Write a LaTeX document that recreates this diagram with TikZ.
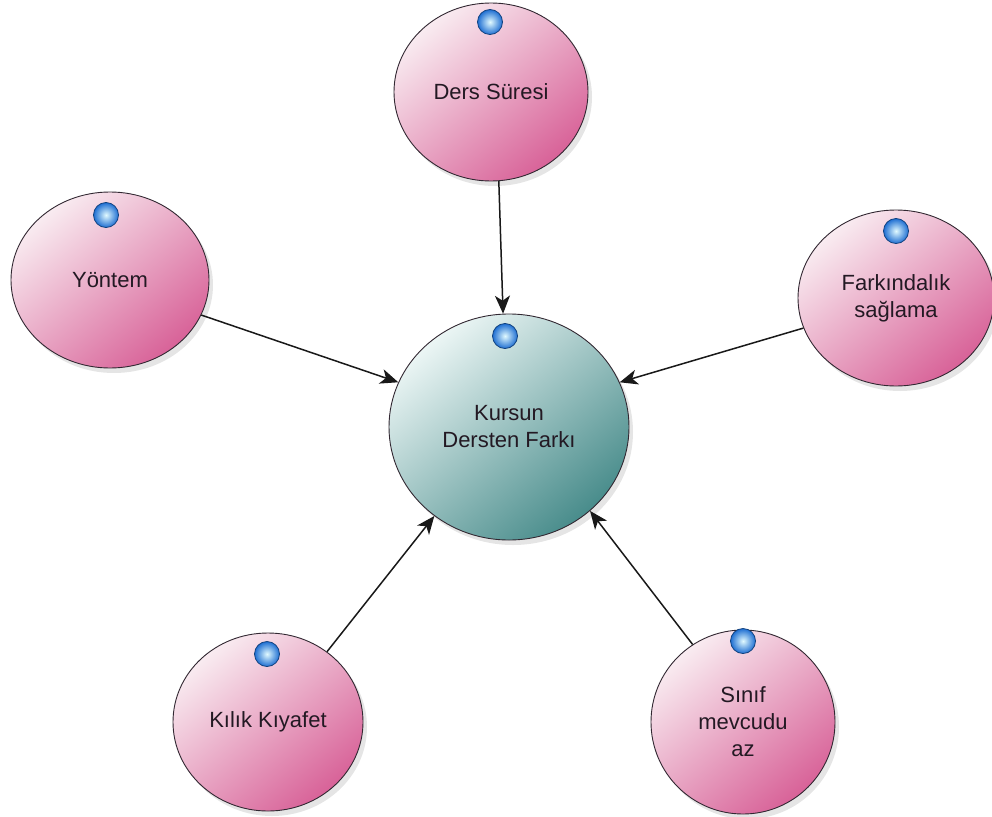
\documentclass[tikz,border=0pt]{standalone}
\usepackage{fontspec}
\setmainfont{Liberation Sans}
\usetikzlibrary{shapes.geometric,arrows.meta,shadows}
\definecolor{pinkL}{RGB}{249,236,241}
\definecolor{pinkD}{RGB}{216,98,152}
\definecolor{tealL}{RGB}{236,246,245}
\definecolor{tealD}{RGB}{72,140,139}
\definecolor{ballO}{RGB}{30,110,210}
\definecolor{ballI}{RGB}{225,250,255}
\definecolor{txt}{RGB}{35,25,35}
\tikzset{
  bubble/.style={ellipse, draw={rgb,255:red,50;green,40;blue,50}, line width=0.9pt, inner sep=0pt,
    align=center, text=txt, font=\fontsize{22}{27}\selectfont,
    drop shadow={shadow xshift=4pt, shadow yshift=-5pt, opacity=0.10, fill=black}},
  pinkbub/.style={bubble, top color=pinkL, bottom color=pinkD, shading angle=40},
  tealbub/.style={bubble, top color=tealL, bottom color=tealD, shading angle=40},
  icon/.style={circle, minimum size=25pt, inner sep=0pt, draw=ballO!60!black, line width=0.8pt,
    inner color=ballI, outer color=ballO},
  conn/.style={black!90, line width=1.5pt, -{Stealth[length=18pt,width=15pt,inset=5pt]}}
}
\begin{document}
\begin{tikzpicture}[x=1pt,y=-1pt]
\useasboundingbox (0,0) rectangle (992,816);
\fill[white] (0,0) rectangle (992,816);
% nodes
\node[tealbub, minimum width=240pt, minimum height=226pt] (c) at (509,427) {Kursun\\Dersten Farkı};
\node[pinkbub, minimum width=194pt, minimum height=178pt] (t) at (491,92) {Ders Süresi};
\node[pinkbub, minimum width=198pt, minimum height=176pt] (l) at (110,280) {Yöntem};
\node[pinkbub, minimum width=196pt, minimum height=176pt] (r) at (896,298) {Farkındalık\\sağlama};
\node[pinkbub, minimum width=190pt, minimum height=178pt] (bl) at (268,722) {Kılık Kıyafet};
\node[pinkbub, minimum width=184pt, minimum height=184pt] (br) at (743,722) {Sınıf\\mevcudu\\az};
% icons
\node[icon] (ic) at (505,336) {};
\node[icon] (it) at (490,22) {};
\node[icon] (il) at (106,215) {};
\node[icon] (ir) at (896,231) {};
\node[icon] (ibl) at (267,654) {};
\node[icon] (ibr) at (743,641) {};
% connectors
\draw[conn] (t.-85) -- (c.93);
\draw[conn] (l.-21) -- (c.158);
\draw[conn] (r.-162) -- (c.22);
\draw[conn] (bl.50) -- (c.-130);
\draw[conn] (br.123) -- (c.-46);
\end{tikzpicture}
\end{document}
